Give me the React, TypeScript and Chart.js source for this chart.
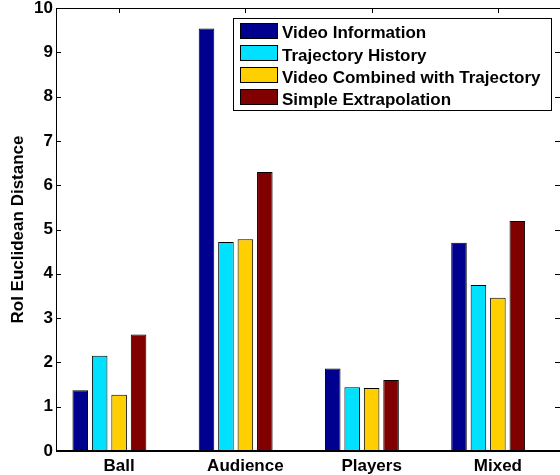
import { useEffect, useRef } from 'react';
import { Chart, registerables } from 'chart.js';

Chart.register(...registerables);

const categories = ['Ball', 'Audience', 'Players', 'Mixed'];
const seriesNames = [
  'Video Information',
  'Trajectory History',
  'Video Combined with Trajectory',
  'Simple Extrapolation',
];
const videoInformation = [1.37, 9.54, 1.86, 4.70];
const trajectoryHistory = [2.15, 4.72, 1.44, 3.75];
const videoCombined = [1.27, 4.78, 1.42, 3.46];
const simpleExtrapolation = [2.63, 6.30, 1.60, 5.19];
const seriesColors = ['#00008F', '#00E1FF', '#FFCF00', '#800000'];
const yMin = 0;
const yMax = 10;
const yStep = 1;
const yTitle = 'RoI Euclidean Distance';

const FONT = '"Liberation Sans", Arial, Helvetica, sans-serif';

const framePlugin = {
  id: 'matlabFrame',
  afterDatasetsDraw(chart: any) {
    const { ctx, chartArea } = chart;
    const { left, right, top, bottom } = chartArea;
    const yScale = chart.scales.y;
    const xScale = chart.scales.x;
    ctx.save();
    ctx.strokeStyle = '#000';
    ctx.lineWidth = 1;
    ctx.beginPath();
    ctx.moveTo(left + 0.5, bottom);
    ctx.lineTo(left + 0.5, top + 0.5);
    ctx.lineTo(right - 0.5, top + 0.5);
    ctx.lineTo(right - 0.5, bottom);
    ctx.stroke();
    ctx.lineWidth = 2;
    ctx.beginPath();
    ctx.moveTo(left, bottom);
    ctx.lineTo(right, bottom);
    ctx.stroke();
    ctx.lineWidth = 1;
    ctx.beginPath();
    yScale.ticks.forEach((t: any) => {
      const py = Math.round(yScale.getPixelForValue(t.value)) + 0.5;
      ctx.moveTo(left, py);
      ctx.lineTo(left + 5, py);
      ctx.moveTo(right - 6, py);
      ctx.lineTo(right, py);
    });
    categories.forEach((_, i) => {
      const px = Math.round(xScale.getPixelForValue(i)) + 0.5;
      ctx.moveTo(px, top);
      ctx.lineTo(px, top + 5);
    });
    ctx.stroke();
    ctx.restore();
  },
  afterDraw(chart: any) {
    const { ctx } = chart;
    const boxL = 233.5, boxT = 18.5, boxR = 551.5, boxB = 110.5;
    ctx.save();
    ctx.fillStyle = '#fff';
    ctx.fillRect(boxL, boxT, boxR - boxL, boxB - boxT);
    ctx.strokeStyle = '#000';
    ctx.lineWidth = 1;
    ctx.strokeRect(boxL, boxT, boxR - boxL, boxB - boxT);
    ctx.font = `bold 17px ${FONT}`;
    ctx.textBaseline = 'alphabetic';
    ctx.textAlign = 'left';
    const ds = chart.data.datasets.filter((d: any) => d.label);
    ds.forEach((d: any, i: number) => {
      const cy = 30.5 + i * 22.2;
      const sy = Math.round(cy - 8) + 0.5;
      ctx.fillStyle = d.backgroundColor;
      ctx.fillRect(240.5, sy, 37, 15);
      ctx.strokeRect(240.5, sy, 37, 15);
      ctx.fillStyle = '#000';
      ctx.fillText(d.label, 282, cy + 7.8);
    });
    ctx.restore();
  },
};

export default function App() {
  const ref = useRef<HTMLCanvasElement>(null);
  useEffect(() => {
    if (!ref.current) return;
    const series = [videoInformation, trajectoryHistory, videoCombined, simpleExtrapolation];
    const datasets: any[] = series.map((data, i) => ({
      label: seriesNames[i],
      data,
      backgroundColor: seriesColors[i],
      borderColor: '#000',
      borderWidth: 1,
      categoryPercentage: 0.77,
      barPercentage: 0.8,
    }));
    // empty fifth slot (the original grouping leaves one empty slot per group)
    datasets.push({
      label: '',
      data: categories.map(() => null),
      backgroundColor: 'rgba(0,0,0,0)',
      borderWidth: 0,
      categoryPercentage: 0.77,
      barPercentage: 0.8,
    });
    const chart = new Chart(ref.current, {
      type: 'bar',
      data: { labels: categories, datasets },
      options: {
        animation: false,
        responsive: false,
        devicePixelRatio: 1,
        layout: { padding: { top: 8, right: 2, left: 0, bottom: 0 } },
        plugins: {
          legend: { display: false },
          tooltip: { enabled: false },
        },
        scales: {
          x: {
            type: 'category',
            offset: true,
            grid: { display: false, drawTicks: false },
            border: { display: false },
            ticks: {
              color: '#000',
              font: { family: FONT, size: 17, weight: 'bold' },
              padding: 5,
              maxRotation: 0,
              autoSkip: false,
            },
            afterFit: (s: any) => {
              s.height = 24;
              s.paddingLeft = 0;
              s.paddingRight = 0;
            },
          },
          y: {
            min: yMin,
            max: yMax,
            grid: { display: false, drawTicks: false },
            border: { display: false },
            ticks: {
              stepSize: yStep,
              color: '#000',
              font: { family: FONT, size: 17, weight: 'bold' },
              padding: 3,
            },
            title: {
              display: true,
              text: yTitle,
              color: '#000',
              font: { family: FONT, size: 17, weight: 'bold' },
              padding: { top: 8, bottom: 0 },
            },
            afterFit: (s: any) => {
              s.width = 56;
              s.paddingTop = 0;
              s.paddingBottom = 0;
            },
          },
        },
      },
      plugins: [framePlugin],
    });
    return () => chart.destroy();
  }, []);
  return (
    <div style={{ position: 'fixed', left: 0, top: 0, width: 563, height: 475, background: '#fff' }}>
      <canvas ref={ref} width={563} height={475} style={{ display: 'block' }} />
    </div>
  );
}
